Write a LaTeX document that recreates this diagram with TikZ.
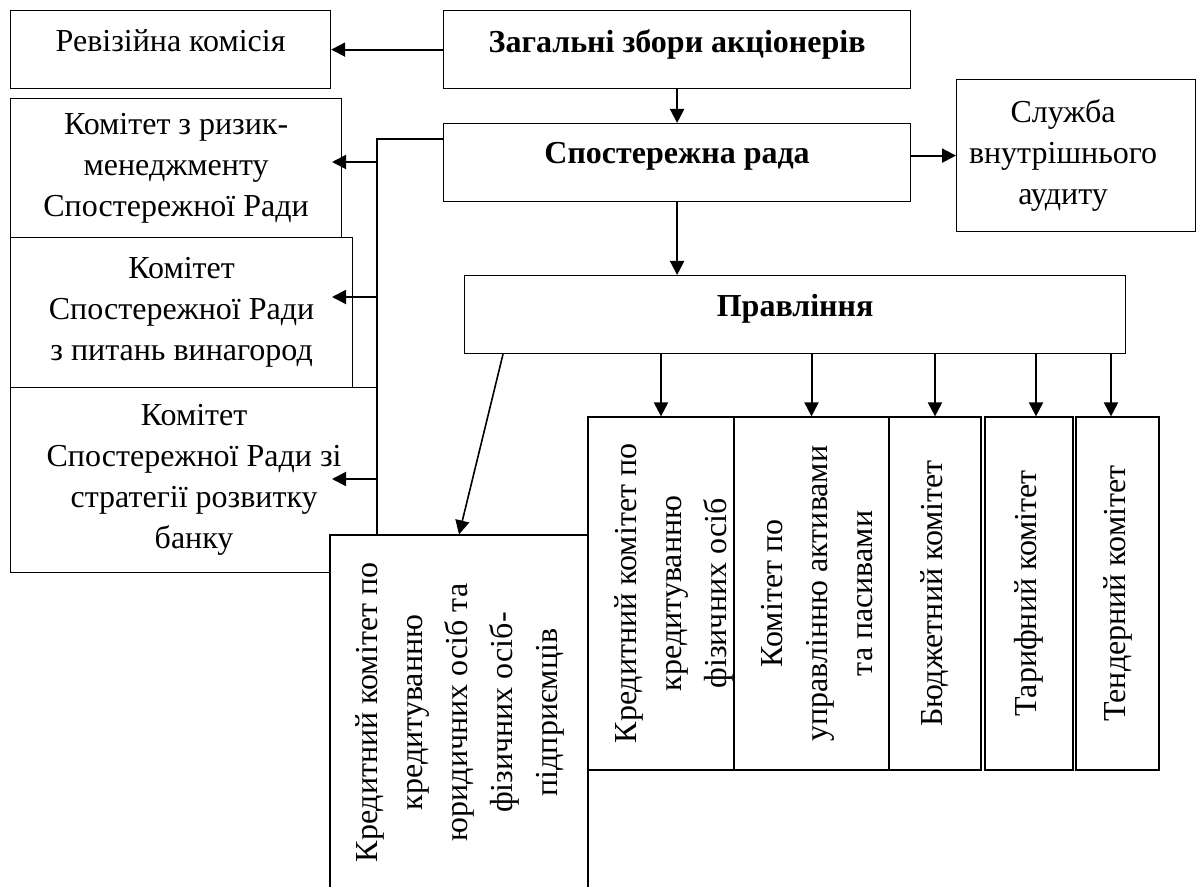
\documentclass[tikz,border=0pt]{standalone}
\usepackage{fontspec}
\setmainfont{Liberation Serif}
\usetikzlibrary{arrows.meta}
% text set at the top / in the middle of a box of given size
\newcommand{\toptext}[4]{\parbox[c][#2][t]{#1}{\centering\vspace*{#3}#4\par}}
\newcommand{\midtext}[3]{\parbox[c][#2][c]{#1}{\centering #3\par}}

\begin{document}
\begin{tikzpicture}[x=0.5pt, y=-0.5pt,
  box/.style={draw, line width=0.6pt, fill=white, inner sep=0pt, font=\fontsize{16pt}{20.5pt}\selectfont},
  boldbox/.style={box, font=\fontsize{16pt}{20.5pt}\selectfont\bfseries},
  vbox/.style={box, rotate=90, font=\fontsize{16pt}{22.5pt}\selectfont},
  arr/.style={-{Triangle[length=7pt, width=7pt]}, line width=1pt},
  thinline/.style={line width=0.6pt}]
\useasboundingbox (0,0) rectangle (1198,887);

% top of the structure
\node[box, anchor=north west] (rev) at (10,10) {\toptext{160pt}{39pt}{9.5pt}{Ревізійна комісія}};
\node[boldbox, anchor=north west] (zag) at (443,10) {\toptext{233.5pt}{39pt}{9.5pt}{Загальні збори акціонерів}};
\node[boldbox, anchor=north west] (spr) at (443,123) {\toptext{233.5pt}{39pt}{9.5pt}{Спостережна рада}};
\node[box, anchor=north west] (sluzh) at (956,79) {\parbox[c][76pt][c]{119.5pt}{\centering\rightskip=13pt plus 1fil Служба\\внутрішнього\\аудиту\par}};
\node[boldbox, anchor=north west] (prav) at (464,275) {\toptext{330.5pt}{39pt}{9.5pt}{Правління}};

% committees of the board
\node[box, anchor=north west] (kr) at (10,98) {\midtext{165.5pt}{69.5pt}{Комітет з ризик-\\менеджменту\\Спостережної Ради}};
\node[box, anchor=north west] (kv) at (10,237) {\midtext{171pt}{75pt}{Комітет\\Спостережної Ради\\з питань винагород}};
\node[box, anchor=north west] (ks) at (10,387) {\midtext{183.5pt}{92.5pt}{Комітет\\Спостережної Ради зі\\стратегії розвитку\\банку}};

% committees of the management
\node[vbox] (big) at (459,712.5) {\toptext{177.5pt}{129pt}{13pt}{Кредитний комітет по\\кредитуванню\\юридичних осіб та\\фізичних осіб-\\підприємців}};
\node[vbox] (v1) at (661,593.5) {\toptext{176.5pt}{73pt}{13.5pt}{Кредитний комітет по\\кредитуванню\\фізичних осіб}};
\node[vbox] (v2) at (811.5,593.5) {\toptext{176.5pt}{77.5pt}{13.5pt}{Комітет по\\управлінню активами\\та пасивами}};
\node[vbox] (v3) at (935,593.5) {\midtext{176.5pt}{46pt}{Бюджетний комітет}};
\node[vbox] (v4) at (1029,593.5) {\midtext{176.5pt}{44pt}{Тарифний комітет}};
\node[vbox] (v5) at (1117.5,593.5) {\midtext{176.5pt}{41.5pt}{Тендерний комітет}};

% connectors
\draw[arr] (zag.west) -- (rev.east);
\draw[arr] (zag.south) -- (spr.north);
\draw[arr] (spr.east |- sluzh.west) -- (sluzh.west);
\draw[arr] (spr.south) -- (prav.north -| spr.south);

\coordinate (bus) at (377,139);
\coordinate (t1) at (332,162);
\coordinate (t2) at (332,297);
\coordinate (t3) at (332,479);
\draw[thinline] (spr.west |- bus) -- (bus) -- (bus |- big.east);
\foreach \t in {t1,t2,t3}
  \draw[arr] (bus |- \t) -- (\t);

\draw[arr, line width=0.8pt] ([xshift=19.5pt]prav.south west) -- (big.east);
\foreach \v in {v1,v2,v3}
  \draw[arr] (prav.south -| \v.east) -- (\v.east);
\coordinate (p4) at ([xshift=3.5pt]v4.east);
\coordinate (p5) at ([xshift=-3.25pt]v5.east);
\draw[arr] (prav.south -| p4) -- (p4);
\draw[arr] (prav.south -| p5) -- (p5);
\end{tikzpicture}
\end{document}
